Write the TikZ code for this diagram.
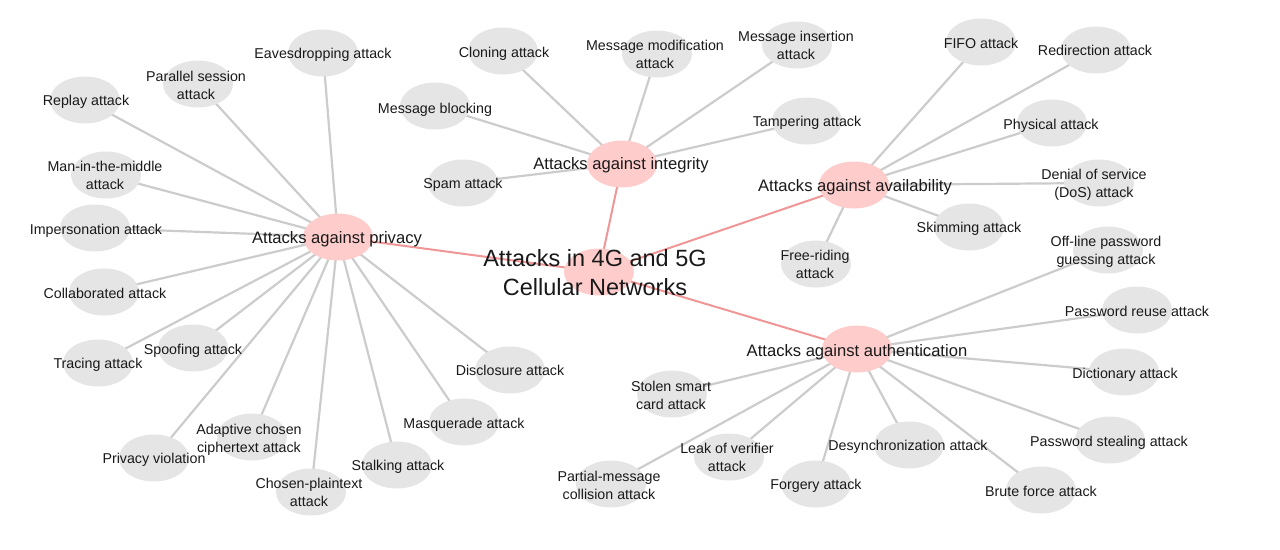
\documentclass[tikz,border=0pt]{standalone}
\usepackage{fontspec}
\setmainfont{Liberation Sans}
\usetikzlibrary{shapes.geometric,backgrounds}
\definecolor{leafgray}{RGB}{229,229,229}
\definecolor{hubpink}{RGB}{255,204,204}
\definecolor{edgegray}{RGB}{204,204,204}
\definecolor{edgepink}{RGB}{240,150,150}
\definecolor{txt}{RGB}{25,25,25}
\tikzset{
  leafshape/.style={ellipse,fill=leafgray,draw=none,minimum width=70pt,minimum height=47pt,inner sep=0pt},
  hubshape/.style={ellipse,fill=hubpink,draw=none,minimum width=70pt,minimum height=47pt,inner sep=0pt},
  lbl/.style={text=txt,align=center,inner sep=0pt,text depth=3pt,yshift=-1.7pt,font=\fontsize{14.25}{18.3}\selectfont},
  hublbl/.style={text=txt,align=center,inner sep=0pt,text depth=3.5pt,yshift=-1.5pt,font=\fontsize{16.6}{20}\selectfont},
  toplbl/.style={text=txt,align=center,inner sep=0pt,font=\fontsize{23.5}{29}\selectfont},
  gedge/.style={draw=edgegray,line width=2.2pt},
  pedge/.style={draw=edgepink,line width=2pt}
}
\newcommand{\mkleaf}[4]{\node[leafshape] (#1) at (#2) {};\node[lbl] (#1t) at (#3) {#4};}
\begin{document}
\begin{tikzpicture}[x=1pt,y=-1pt]
\useasboundingbox (0,0) rectangle (1280,549);
% hubs
\node[hubshape] (C) at (599,272) {};
\node[hubshape] (P) at (338,237) {};
\node[hubshape] (I) at (622,164) {};
\node[hubshape] (A) at (854,185) {};
\node[hubshape] (U) at (857,349) {};
% privacy leaves
\mkleaf{p1}{323,53}{323,53}{Eavesdropping attack}
\mkleaf{p2}{198,84}{196,85}{Parallel session\\attack}
\mkleaf{p3}{85,100}{86,100}{Replay attack}
\mkleaf{p4}{106,175}{105,175}{Man-in-the-middle\\attack}
\mkleaf{p5}{95,228}{96,229}{Impersonation attack}
\mkleaf{p6}{104,292}{105,293}{Collaborated attack}
\mkleaf{p7}{98,363}{98,363}{Tracing attack}
\mkleaf{p8}{193,348}{193,349}{Spoofing attack}
\mkleaf{p9}{154,458}{154,458}{Privacy violation}
\mkleaf{p10}{252,437}{249,438}{Adaptive chosen\\ciphertext attack}
\mkleaf{p11}{311,492}{309,492}{Chosen-plaintext\\attack}
\mkleaf{p12}{397,465}{398,465}{Stalking attack}
\mkleaf{p13}{464,422}{464,423}{Masquerade attack}
\mkleaf{p14}{510,370}{510,370}{Disclosure attack}
% integrity leaves
\mkleaf{i1}{503,51}{504,52}{Cloning attack}
\mkleaf{i2}{657,54}{655,54}{Message modification\\attack}
\mkleaf{i3}{797,45}{796,45}{Message insertion\\attack}
\mkleaf{i4}{435,106}{435,108}{Message blocking}
\mkleaf{i5}{807,121}{807,121}{Tampering attack}
\mkleaf{i6}{463,183}{463,183}{Spam attack}
% availability leaves
\mkleaf{a1}{981,42}{981,43}{FIFO attack}
\mkleaf{a2}{1096,50}{1095,50}{Redirection attack}
\mkleaf{a3}{1052,123}{1051,124}{Physical attack}
\mkleaf{a4}{1099,183}{1094,183}{Denial of service\\(DoS) attack}
\mkleaf{a5}{969,227}{969,227}{Skimming attack}
\mkleaf{a6}{816,264}{815,264}{Free-riding\\attack}
% authentication leaves
\mkleaf{u1}{1108,250}{1106,250}{Off-line password\\guessing attack}
\mkleaf{u2}{1137,310}{1137,311}{Password reuse attack}
\mkleaf{u3}{1124,372}{1125,373}{Dictionary attack}
\mkleaf{u4}{1110,440}{1109,441}{Password stealing attack}
\mkleaf{u5}{1041,490}{1041,491}{Brute force attack}
\mkleaf{u6}{909,445}{908,445}{Desynchronization attack}
\mkleaf{u7}{816,484}{816,484}{Forgery attack}
\mkleaf{u8}{729,457}{727,457}{Leak of verifier\\attack}
\mkleaf{u9}{611,484}{609,485}{Partial-message\\collision attack}
\mkleaf{u10}{672,394}{671,395}{Stolen smart\\card attack}
% hub labels
\node[hublbl] (Pt) at (337,238) {Attacks against privacy};
\node[hublbl] (It) at (621,164) {Attacks against integrity};
\node[hublbl] (At) at (855,186) {Attacks against availability};
\node[hublbl] (Ut) at (857,351) {Attacks against authentication};
\node[toplbl] (Ct) at (595,273) {Attacks in 4G and 5G\\Cellular Networks};
% edges
\begin{scope}[on background layer]
\foreach \n in {p1,p2,p3,p4,p5,p6,p7,p8,p9,p10,p11,p12,p13,p14}
  \draw[gedge] (P.center) -- (\n.center);
\foreach \n in {i1,i2,i3,i4,i5,i6}
  \draw[gedge] (I.center) -- (\n.center);
\foreach \n in {a1,a2,a3,a4,a5,a6}
  \draw[gedge] (A.center) -- (\n.center);
\foreach \n in {u1,u2,u3,u4,u5,u6,u7,u8,u9,u10}
  \draw[gedge] (U.center) -- (\n.center);
\foreach \n in {P,I,A,U}
  \draw[pedge] (C.center) -- (\n.center);
\end{scope}
\end{tikzpicture}
\end{document}
